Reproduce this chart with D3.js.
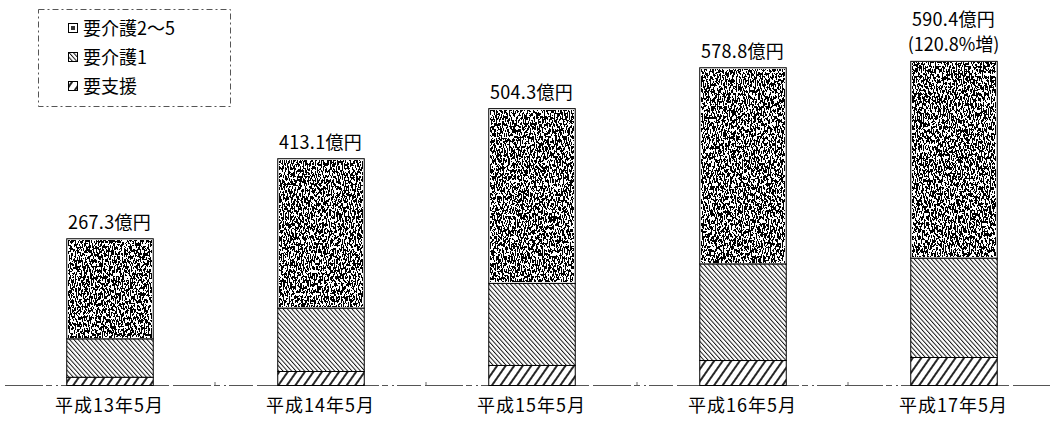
<!DOCTYPE html>
<html>
<head>
<meta charset="utf-8">
<script src="https://cdn.jsdelivr.net/npm/d3@7"></script>
<style>
  body { margin: 0; background: #fff; }
  svg { display: block; font-family: "Noto Sans CJK JP", "Noto Sans", sans-serif; }
</style>
</head>
<body>
<script>
// categories and values (億円)
var categories = ["平成13年5月", "平成14年5月", "平成15年5月", "平成16年5月", "平成17年5月"];
var shien = [15, 25.5, 36.5, 45.5, 51];          // 要支援
var kaigo1 = [70, 115.5, 149.5, 176, 181];        // 要介護1
var kaigo25 = [182.3, 272.1, 318.3, 357.3, 358.4]; // 要介護2～5
var totalLabels = ["267.3億円", "413.1億円", "504.3億円", "578.8億円", "590.4億円"];
var noteLabels = ["", "", "", "", "(120.8%増)"];
var seriesNames = ["要介護2～5", "要介護1", "要支援"];
var seriesKeys = ["kaigo25", "kaigo1", "shien"];

var width = 1054, height = 428;

var dataset = categories.map(function (c, i) {
    return { cat: c, shien: shien[i], kaigo1: kaigo1[i], kaigo25: kaigo25[i] };
});

var svg = d3.select("body").append("svg")
    .attr("width", width)
    .attr("height", height);

var defs = svg.append("defs");

// speckle texture for 要介護2～5
var f = defs.append("filter").attr("id", "speckle")
    .attr("x", 0).attr("y", 0).attr("width", 1).attr("height", 1);
f.append("feTurbulence").attr("type", "fractalNoise")
    .attr("baseFrequency", "0.85 0.3").attr("numOctaves", 2).attr("seed", 7).attr("result", "t");
f.append("feColorMatrix").attr("type", "matrix")
    .attr("values", "0 0 0 0 0  0 0 0 0 0  0 0 0 0 0  1 0 0 0 0").attr("result", "a");
var ct = f.append("feComponentTransfer");
ct.append("feFuncA").attr("type", "discrete").attr("tableValues", "0 0 0 0 0 1 1 1 1 1");

// thin back hatch for 要介護1
var p1 = defs.append("pattern").attr("id", "hatch1")
    .attr("patternUnits", "userSpaceOnUse").attr("width", 3.2).attr("height", 10)
    .attr("patternTransform", "rotate(-42)");
p1.append("rect").attr("width", 3.2).attr("height", 10).attr("fill", "#fff");
p1.append("line").attr("x1", 0.5).attr("y1", 0).attr("x2", 0.5).attr("y2", 10)
    .attr("stroke", "#000").attr("stroke-width", 0.9);

// wide forward hatch for 要支援
var p2 = defs.append("pattern").attr("id", "hatch2")
    .attr("patternUnits", "userSpaceOnUse").attr("width", 7).attr("height", 10)
    .attr("patternTransform", "rotate(35)");
p2.append("rect").attr("width", 7).attr("height", 10).attr("fill", "#fff");
p2.append("line").attr("x1", 1).attr("y1", 0).attr("x2", 1).attr("y2", 10)
    .attr("stroke", "#000").attr("stroke-width", 1.7);

var xScale = d3.scaleBand()
    .domain(categories)
    .range([4, 1059])
    .paddingInner(0.59)
    .paddingOuter(0.295);

var yScale = d3.scaleLinear()
    .domain([0, 600])
    .range([385, 55.6]);

// baseline
svg.append("line")
    .attr("x1", 5).attr("x2", 1050)
    .attr("y1", yScale(0) + 0.5).attr("y2", yScale(0) + 0.5)
    .attr("stroke", "#555").attr("stroke-width", 1)
    .attr("stroke-dasharray", "38,3,6,4,2,3,24,4");

// small ticks between categories
svg.selectAll(".tick")
    .data(categories.slice(1))
    .enter().append("line")
    .attr("x1", function (d) { return xScale(d) - xScale.step() * xScale.paddingInner() / 2; })
    .attr("x2", function (d) { return xScale(d) - xScale.step() * xScale.paddingInner() / 2; })
    .attr("y1", yScale(0) - 3).attr("y2", yScale(0))
    .attr("stroke", "#666");

var stack = d3.stack().keys(["shien", "kaigo1", "kaigo25"]);
var layers = stack(dataset);

var fills = { shien: "url(#hatch2)", kaigo1: "url(#hatch1)", kaigo25: "#fff" };

layers.forEach(function (layer) {
    var g = svg.append("g");
    g.selectAll("rect")
        .data(layer)
        .enter().append("rect")
        .attr("x", function (d) { return xScale(d.data.cat) + 0.5; })
        .attr("y", function (d) { return yScale(d[1]) + 0.5; })
        .attr("width", xScale.bandwidth())
        .attr("height", function (d) { return yScale(d[0]) - yScale(d[1]); })
        .attr("fill", fills[layer.key])
        .attr("stroke", "#000")
        .attr("stroke-width", 1);
    if (layer.key === "kaigo25") {
        g.selectAll("rect.sp")
            .data(layer)
            .enter().append("rect")
            .attr("class", "sp")
            .attr("x", function (d) { return xScale(d.data.cat) + 2; })
            .attr("y", function (d) { return yScale(d[1]) + 2; })
            .attr("width", xScale.bandwidth() - 3)
            .attr("height", function (d) { return yScale(d[0]) - yScale(d[1]) - 3; })
            .attr("fill", "#000")
            .attr("filter", "url(#speckle)");
    }
});

// total labels
svg.selectAll(".total")
    .data(dataset)
    .enter().append("text")
    .attr("class", "total")
    .attr("x", function (d) { return xScale(d.cat) + xScale.bandwidth() / 2; })
    .attr("y", function (d, i) {
        var top = yScale(d.shien + d.kaigo1 + d.kaigo25);
        return noteLabels[i] ? top - 35 : top - 9;
    })
    .attr("text-anchor", "middle")
    .attr("font-size", 18)
    .attr("letter-spacing", 0.3)
    .text(function (d, i) { return totalLabels[i]; });

svg.selectAll(".note")
    .data(dataset)
    .enter().append("text")
    .attr("class", "note")
    .attr("x", function (d) { return xScale(d.cat) + xScale.bandwidth() / 2; })
    .attr("y", function (d) { return yScale(d.shien + d.kaigo1 + d.kaigo25) - 10; })
    .attr("text-anchor", "middle")
    .attr("font-size", 18)
    .text(function (d, i) { return noteLabels[i]; });

// category labels
svg.append("g")
    .attr("transform", "translate(0," + yScale(0) + ")")
    .call(d3.axisBottom(xScale).tickSize(0).tickPadding(14))
    .call(function (g) { g.select(".domain").remove(); })
    .selectAll("text")
    .attr("font-family", "'Noto Sans CJK JP', sans-serif")
    .attr("font-size", 18)
    .attr("letter-spacing", 1)
    .attr("fill", "#000");

// legend
var legend = svg.append("g").attr("transform", "translate(38,9)");
legend.append("rect")
    .attr("x", 0.5).attr("y", 0.5).attr("width", 192).attr("height", 97)
    .attr("fill", "#fff").attr("stroke", "#555")
    .attr("stroke-dasharray", "6,3,2,3");

var iconFill = { kaigo25: "#fff", kaigo1: "url(#hatch1)", shien: "url(#hatch2)" };
var items = legend.selectAll(".item")
    .data(seriesNames)
    .enter().append("g")
    .attr("transform", function (d, i) { return "translate(30," + (19 + i * 29) + ")"; });
items.append("rect")
    .attr("x", 0.5).attr("y", -4.5).attr("width", 9).attr("height", 9)
    .attr("fill", function (d, i) { return iconFill[seriesKeys[i]]; })
    .attr("stroke", "#000");
items.filter(function (d, i) { return i === 0; })
    .append("rect")
    .attr("x", 3).attr("y", -2).attr("width", 4).attr("height", 4)
    .attr("fill", "#333");
items.append("text")
    .attr("x", 15).attr("y", 6.5)
    .attr("font-size", 18)
    .text(function (d) { return d; });
</script>
</body>
</html>
